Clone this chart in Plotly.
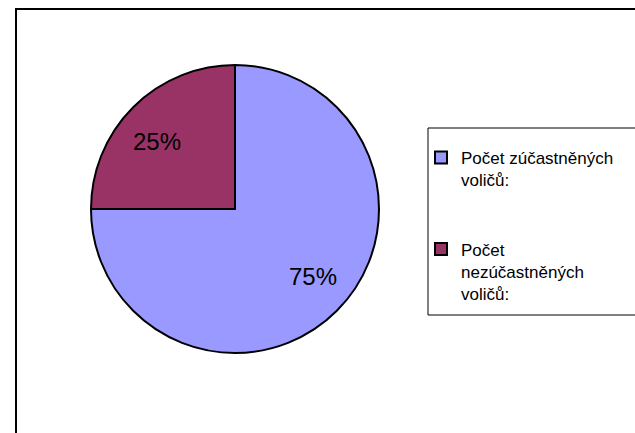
import math
import plotly.graph_objects as go

BLUE = "#9999FF"
MAROON = "#993366"

labels = ["Počet zúčastněných<br>voličů:<br> <br> ", "Počet<br>nezúčastněných<br>voličů:"]
values = [75, 25]
colors = [BLUE, MAROON]

W, H = 635, 433
# pie geometry in pixels (centre and radius)
CX, CY, R = 235, 209, 144

fig = go.Figure(
    go.Pie(
        labels=labels,
        values=values,
        sort=False,
        direction="clockwise",
        rotation=0,
        marker=dict(colors=colors, line=dict(color="black", width=2)),
        textinfo="none",
        domain=dict(x=[(CX - R) / W, (CX + R) / W], y=[(H - CY - R) / H, (H - CY + R) / H]),
        hoverinfo="label+percent",
    )
)

# percentage labels placed along each slice bisector, like Excel does
total = sum(values)
cum = 0
for v in values:
    mid = 2 * math.pi * (cum + v / 2) / total
    cum += v
    px_x = CX + 0.77 * R * math.sin(mid)
    px_y = CY - 0.665 * R * math.cos(mid)
    fig.add_annotation(
        x=px_x / W,
        y=(H - px_y) / H,
        xref="paper",
        yref="paper",
        xanchor="center",
        yanchor="middle",
        text=f"{v / total:.0%}",
        showarrow=False,
        font=dict(size=24, color="black"),
    )

# outer chart frame
fig.add_shape(
    type="rect",
    xref="paper",
    yref="paper",
    x0=16 / W,
    x1=1.02,
    y0=-0.02,
    y1=(H - 9) / H,
    line=dict(color="black", width=2),
)
# legend frame
fig.add_shape(
    type="rect",
    xref="paper",
    yref="paper",
    x0=428 / W,
    x1=1.02,
    y0=(H - 315) / H,
    y1=(H - 128) / H,
    line=dict(color="black", width=1),
)

fig.update_layout(
    width=W,
    height=H,
    margin=dict(l=0, r=0, t=0, b=0),
    paper_bgcolor="white",
    plot_bgcolor="white",
    font=dict(family="Liberation Sans, Arial, sans-serif", color="black"),
    legend=dict(
        x=421 / W,
        y=(H - 140) / H,
        xanchor="left",
        yanchor="top",
        borderwidth=0,
        bgcolor="rgba(0,0,0,0)",
        font=dict(size=17),
        valign="top",
        itemwidth=30,
    ),
)

fig.write_html(
    "out.html",
    config={"displayModeBar": False},
    post_script="document.body.style.margin='0';",
)
